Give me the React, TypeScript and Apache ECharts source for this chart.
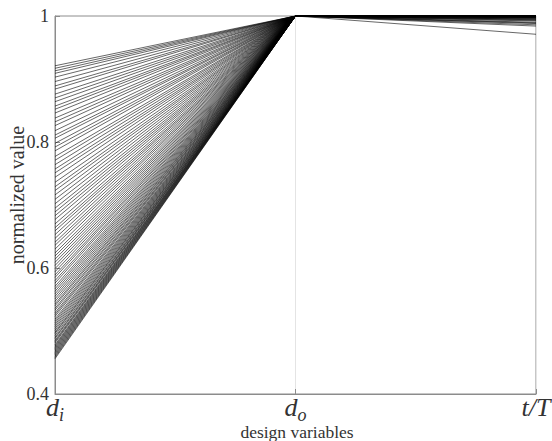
import React, { useEffect, useRef } from "react";
import * as echarts from "echarts";

// design variable axes
const variables = ["d_i", "d_o", "t/T"];
const yTicks = [0.4, 0.6, 0.8, 1];

// normalized value of each design at d_i
const diValues = [
  0.921, 0.917, 0.913, 0.909, 0.903, 0.896, 0.889, 0.884, 0.876, 0.87,
  0.864, 0.857, 0.852, 0.846, 0.838, 0.832, 0.826, 0.818, 0.811, 0.806,
  0.798, 0.792, 0.786, 0.777, 0.771, 0.764, 0.757, 0.751, 0.744, 0.736,
  0.729, 0.723, 0.716, 0.709, 0.702, 0.695, 0.689, 0.683, 0.677, 0.67,
  0.664, 0.659, 0.653, 0.647, 0.641, 0.636, 0.63, 0.624, 0.619, 0.614,
  0.609, 0.604, 0.599, 0.594, 0.589, 0.585, 0.58, 0.576, 0.571, 0.567,
  0.563, 0.559, 0.555, 0.551, 0.547, 0.543, 0.54, 0.536, 0.533, 0.529,
  0.526, 0.523, 0.519, 0.516, 0.513, 0.51, 0.507, 0.504, 0.501, 0.498,
  0.496, 0.493, 0.49, 0.488, 0.485, 0.483, 0.481, 0.478, 0.476, 0.474,
  0.472, 0.47, 0.468, 0.466, 0.464, 0.462, 0.46, 0.458, 0.456,
];

// normalized value at d_o (all designs sit on the upper bound)
const doValues = diValues.map(() => 1);

// normalized value at t/T
const tTValues = [
  1, 1, 1, 0.999, 1, 1, 0.998, 1, 1, 1,
  0.997, 1, 1, 1, 0.999, 1, 1, 0.995, 1, 1,
  1, 1, 0.993, 1, 1, 1, 0.999, 1, 1, 0.99,
  1, 1, 1, 1, 0.998, 1, 1, 1, 0.988, 1,
  1, 1, 1, 0.999, 1, 1, 0.986, 1, 1, 1,
  1, 0.997, 1, 1, 1, 1, 0.984, 1, 1, 1,
  0.999, 1, 1, 1, 0.995, 1, 1, 1, 1, 0.971,
  1, 1, 0.998, 1, 1, 1, 1, 0.992, 1, 1,
  1, 0.999, 1, 1, 1, 0.996, 1, 1, 1, 1,
  0.998, 1, 1, 1, 0.994, 1, 1, 0.989, 1,
];

const serif = "Liberation Serif";
const axisGray = "#8c8c8c";
const textColor = "#333";

// main letter sits on top of its box, subscript on the bottom of the taller line
const labelRich: Record<string, string> = {
  d_i: "{v|d}{s|i}",
  d_o: "{v|d}{s|o}",
  "t/T": "{v|t/T}",
};

export default function App() {
  const ref = useRef<HTMLDivElement>(null);

  useEffect(() => {
    if (!ref.current) return;
    const chart = echarts.init(ref.current, undefined, { renderer: "svg" });

    const series = diValues.map((v, i) => ({
      type: "line" as const,
      data: [v, doValues[i], tTValues[i]],
      symbol: "none",
      silent: true,
      lineStyle: { color: "#000", width: 0.6 },
    }));

    chart.setOption({
      animation: false,
      backgroundColor: "#fff",
      textStyle: { fontFamily: serif },
      grid: {
        left: 55,
        right: 16,
        top: 16,
        bottom: 47,
        containLabel: false,
        outerBoundsMode: "none",
        show: true,
        borderColor: axisGray,
        borderWidth: 1,
        backgroundColor: "transparent",
      },
      xAxis: {
        type: "category",
        data: variables,
        boundaryGap: false,
        axisLine: { lineStyle: { color: axisGray, width: 1 } },
        axisTick: { inside: true, length: 5, lineStyle: { color: axisGray } },
        splitLine: { show: true, lineStyle: { color: "#e4e4e4", width: 1 } },
        axisLabel: {
          margin: 0,
          formatter: (val: string) => labelRich[val] ?? val,
          rich: {
            v: {
              fontFamily: serif,
              fontStyle: "italic",
              fontSize: 26,
              color: textColor,
              lineHeight: 24,
              verticalAlign: "top",
            },
            s: {
              fontFamily: serif,
              fontStyle: "italic",
              fontSize: 18,
              color: textColor,
              lineHeight: 30,
              verticalAlign: "bottom",
            },
          },
        },
      },
      yAxis: {
        type: "value",
        min: yTicks[0],
        max: yTicks[yTicks.length - 1],
        interval: 0.2,
        axisLine: { show: true, lineStyle: { color: axisGray, width: 1 } },
        axisTick: { show: true, inside: true, length: 5, lineStyle: { color: axisGray } },
        splitLine: { show: false },
        axisLabel: {
          margin: 6,
          fontFamily: serif,
          fontSize: 18,
          color: textColor,
          formatter: (v: number) => (v === 1 ? "1" : v.toFixed(1)),
        },
      },
      graphic: [
        {
          type: "text",
          x: 17,
          y: 195,
          rotation: Math.PI / 2,
          style: {
            text: "normalized value",
            fontFamily: serif,
            fontSize: 20,
            fill: textColor,
            align: "center",
            verticalAlign: "middle",
          },
        },
        {
          type: "text",
          x: 297,
          y: 431.5,
          style: {
            text: "design variables",
            fontFamily: serif,
            fontSize: 17.5,
            fill: textColor,
            align: "center",
            verticalAlign: "middle",
          },
        },
      ],
      series,
    });

    return () => chart.dispose();
  }, []);

  return <div ref={ref} style={{ width: 552, height: 441, position: "absolute", left: 0, top: 0 }} />;
}
